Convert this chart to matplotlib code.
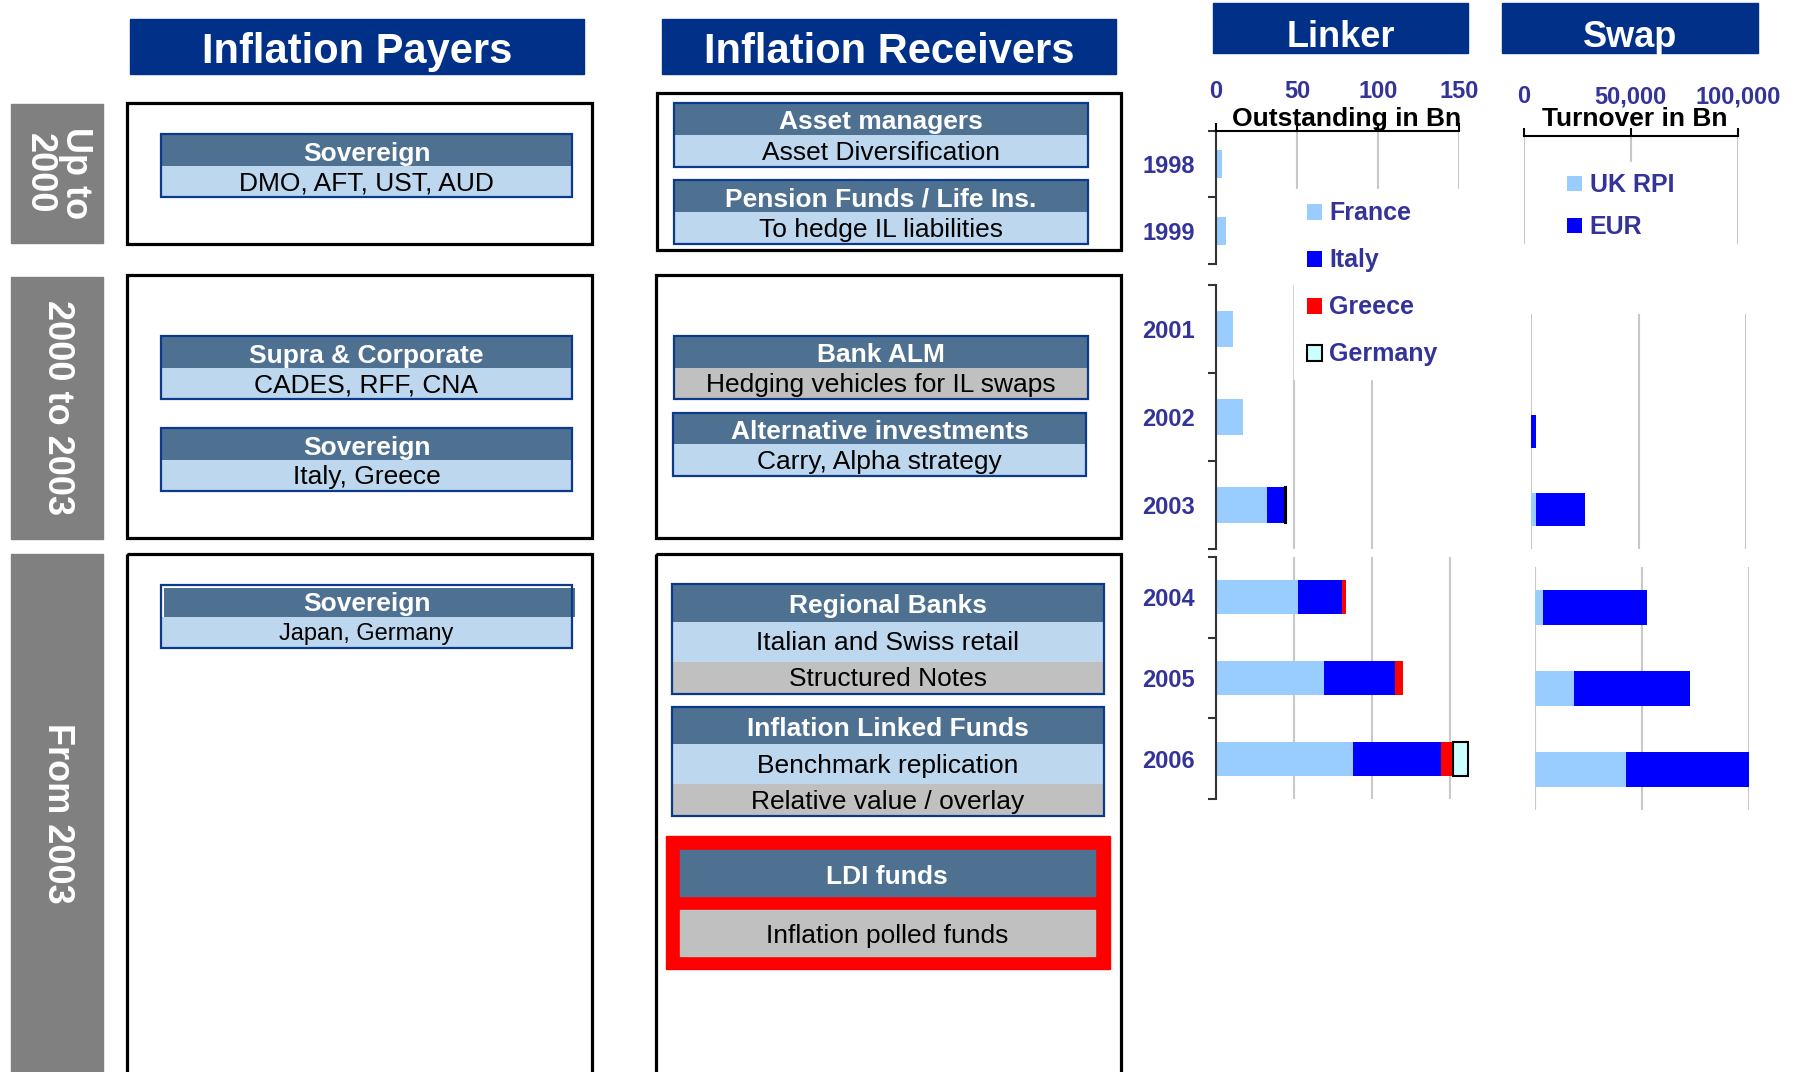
import matplotlib.pyplot as plt
from matplotlib.patches import Rectangle, Patch
from matplotlib.ticker import FuncFormatter

plt.rcParams['font.family'] = ['Liberation Sans', 'DejaVu Sans']

W, H = 1798, 1072
NAVY = '#003087'
STEEL = '#4F7191'
LIGHT = '#BDD7EE'
GREY = '#C0C0C0'
BORDER = '#0B3A8C'
LABEL = '#333399'
GRID = '#C8C8C8'

# --- chart data (linker outstanding in Bn, swap turnover in Bn) ---
years_a = ['1998', '1999']
years_b = ['2001', '2002', '2003']
years_c = ['2004', '2005', '2006']

france_a = [4, 6]
france_b = [11, 17, 32.5]
italy_b = [0, 0, 11.5]
greece_b = [0, 0, 0]
germany_b = [0, 0, 1]
france_c = [52.5, 69, 88]
italy_c = [28, 46, 56.5]
greece_c = [2.7, 5, 7.5]
germany_c = [0, 0, 9.5]

ukrpi_b = [0, 0, 2500]
eur_b = [0, 2200, 22600]
ukrpi_c = [3800, 18300, 42500]
eur_c = [48400, 54000, 59000]

linker_names = ['France', 'Italy', 'Greece', 'Germany']
linker_colors = ['#99CCFF', '#0000FF', '#FF0000', '#CCFFFF']
swap_names = ['UK RPI', 'EUR']
swap_colors = ['#99CCFF', '#0000FF']

# --- diagram text ---
periods = ['Up to\n2000', '2000 to 2003', 'From 2003']
payer_cards = [['Sovereign', 'DMO, AFT, UST, AUD'],
               ['Supra & Corporate', 'CADES, RFF, CNA'],
               ['Sovereign', 'Italy, Greece'],
               ['Sovereign', 'Japan, Germany']]
receiver_cards = [['Asset managers', 'Asset Diversification'],
                  ['Pension Funds / Life Ins.', 'To hedge IL liabilities'],
                  ['Bank ALM', 'Hedging vehicles for IL swaps'],
                  ['Alternative investments', 'Carry, Alpha strategy'],
                  ['Regional Banks', 'Italian and Swiss retail', 'Structured Notes'],
                  ['Inflation Linked Funds', 'Benchmark replication', 'Relative value / overlay']]

fig = plt.figure(figsize=(W / 100, H / 100), dpi=100)
bg = fig.add_axes([0, 0, 1, 1])
bg.set_xlim(0, W)
bg.set_ylim(H, 0)
bg.axis('off')


def px_axes(x0, y0, x1, y1):
    ax = fig.add_axes([x0 / W, 1 - y1 / H, (x1 - x0) / W, (y1 - y0) / H])
    ax.patch.set_visible(False)
    return ax


def banner(x0, y0, x1, y1, text, size, base):
    bg.add_patch(Rectangle((x0, y0), x1 - x0, y1 - y0, color=NAVY))
    bg.text((x0 + x1) / 2, base, text, ha='center', va='baseline',
            color='white', fontsize=size, fontweight='bold')


def frame(x0, y0, x1, y1):
    bg.add_patch(Rectangle((x0, y0), x1 - x0, y1 - y0, fill=False,
                           edgecolor='black', lw=2.3))


def card(x0, x1, ys, texts, fills, size=19, shift=0):
    for i, (txt, fill) in enumerate(zip(texts, fills)):
        top, bot = ys[i], ys[i + 1]
        head = i == 0
        dx = shift if head else 0
        dy = shift if head else 0
        bg.add_patch(Rectangle((x0 + dx, top + dy), x1 - x0, bot - top - dy,
                               facecolor=fill, edgecolor='none'))
        bg.text((x0 + x1) / 2, (top + bot) / 2 + (1 if head else -1), txt,
                ha='center', va='center_baseline', fontsize=19 if head else size,
                color='white' if head else 'black',
                fontweight='bold' if head else 'normal')
    bg.add_patch(Rectangle((x0, ys[0]), x1 - x0, ys[-1] - ys[0], fill=False,
                           edgecolor=BORDER, lw=1.6))


# headers
banner(130, 19, 584, 74, 'Inflation Payers', 30, 63)
banner(662, 19, 1116, 74, 'Inflation Receivers', 30, 63)
banner(1213, 3, 1468, 53, 'Linker', 26, 47)
banner(1502, 3, 1758, 53, 'Swap', 26, 47)

# period labels
for (y0, y1), txt in zip([(104, 243), (277, 539), (554, 1080)], periods):
    bg.add_patch(Rectangle((11, y0), 92, y1 - y0, color='#808080'))
    bg.text(57, (y0 + min(y1, H)) / 2, txt, rotation=-90, ha='center', va='center',
            color='white', fontsize=26, fontweight='bold', linespacing=1.05,
            multialignment='center')

# frames
for y0, y1 in [(103, 244), (275, 538), (554, 1090)]:
    frame(127, y0, 592, y1)
frame(657, 93, 1121, 250)
frame(656, 275, 1121, 538)
frame(656, 554, 1121, 1090)

# payer cards
card(161, 572, [134, 166, 197], payer_cards[0], [STEEL, LIGHT])
card(161, 572, [336, 368, 399], payer_cards[1], [STEEL, LIGHT])
card(161, 572, [428, 460, 491], payer_cards[2], [STEEL, LIGHT])
card(161, 572, [585, 617, 648], payer_cards[3], [STEEL, LIGHT], size=17, shift=3)

# receiver cards
card(674, 1088, [103, 135, 167], receiver_cards[0], [STEEL, LIGHT])
card(674, 1088, [180, 212, 244], receiver_cards[1], [STEEL, LIGHT])
card(674, 1088, [336, 368, 399], receiver_cards[2], [STEEL, GREY])
card(673, 1086, [413, 444, 476], receiver_cards[3], [STEEL, LIGHT])
card(672, 1104, [584, 622, 662, 694], receiver_cards[4], [STEEL, LIGHT, GREY])
card(672, 1104, [707, 744, 784, 816], receiver_cards[5], [STEEL, LIGHT, GREY])

# LDI box
bg.add_patch(Rectangle((666, 836), 444, 133, color='#FF0000'))
bg.add_patch(Rectangle((680, 850), 415, 46, color=STEEL))
bg.add_patch(Rectangle((680, 910), 415, 46, color=GREY))
bg.text(887, 874, 'LDI funds', ha='center', va='center_baseline', color='white',
        fontsize=19, fontweight='bold')
bg.text(887, 933, 'Inflation polled funds', ha='center', va='center_baseline',
        fontsize=19)

bg.text(1347, 119, 'Outstanding in Bn', ha='center', va='center',
        fontsize=19, fontweight='bold')
bg.text(1635, 119, 'Turnover in Bn', ha='center', va='center',
        fontsize=19, fontweight='bold')


def category_axis(ax, cats, xmax, labels=True):
    n = len(cats)
    ax.set_xlim(0, xmax)
    ax.set_ylim(n - 0.5, -0.5)
    ax.set_axisbelow(True)
    ax.grid(axis='x', color=GRID, lw=1.5)
    for s in ['right', 'bottom', 'top', 'left']:
        ax.spines[s].set_visible(False)
    ax.tick_params(axis='x', length=0, labelbottom=False)
    if labels:
        ax.spines['left'].set_visible(True)
        ax.spines['left'].set_color('#333333')
        ax.spines['left'].set_linewidth(1.5)
        ax.set_yticks([i - 0.5 for i in range(n + 1)])
        ax.set_yticklabels([])
        ax.set_yticks(range(n), minor=True)
        ax.set_yticklabels(cats, minor=True, fontweight='bold')
        ax.tick_params(axis='y', which='major', direction='out', length=6,
                       width=1.5, color='#333333')
        ax.tick_params(axis='y', which='minor', length=0, pad=15,
                       labelsize=17, labelcolor=LABEL)
    else:
        ax.set_yticks([])


def top_axis(ax, ticks, fmt=None):
    ax.spines['top'].set_visible(True)
    ax.spines['top'].set_color('black')
    ax.spines['top'].set_linewidth(1.5)
    ax.set_xticks(ticks)
    if fmt:
        ax.xaxis.set_major_formatter(FuncFormatter(fmt))
    ax.tick_params(axis='x', top=True, labeltop=True, bottom=False, labelbottom=False,
                   direction='out', length=6, width=1.5, pad=14,
                   labelsize=17, labelcolor=LABEL)
    for lab in ax.get_xticklabels():
        lab.set_fontweight('bold')


def stacked(ax, series, colors, edge_last=False):
    left = [0] * len(series[0])
    for k, (vals, col) in enumerate(zip(series, colors)):
        edged = edge_last and k == len(series) - 1
        lw = [1.5 if (edged and v > 0) else 0 for v in vals]
        ax.barh(range(len(vals)), vals, left=left, height=0.42, color=col,
                edgecolor='black', linewidth=lw)
        left = [a + b for a, b in zip(left, vals)]


# linker panels (lower panels run a little past 150 so the 2006 stack fits)
la = px_axes(1216, 131, 1459, 264)
category_axis(la, years_a, 150)
top_axis(la, [0, 50, 100, 150])
stacked(la, [france_a], linker_colors[:1])

px_per_bn = (1450 - 1216) / 150
lb = px_axes(1216, 285, 1216 + 175 * px_per_bn, 549)
category_axis(lb, years_b, 175)
lb.set_xticks([0, 50, 100])
stacked(lb, [france_b, italy_b, greece_b, germany_b], linker_colors, edge_last=True)

lc = px_axes(1216, 557, 1216 + 175 * px_per_bn, 799)
category_axis(lc, years_c, 175)
lc.set_xticks([0, 50, 100, 150])
stacked(lc, [france_c, italy_c, greece_c, germany_c], linker_colors, edge_last=True)

# swap panels
sa = px_axes(1523.5, 136, 1738, 244)
category_axis(sa, years_a, 100000, labels=False)
top_axis(sa, [0, 50000, 100000], lambda v, p: f'{v:,.0f}')

sb = px_axes(1531, 314, 1746, 549)
category_axis(sb, years_b, 100000, labels=False)
sb.set_xticks([0, 50000, 100000])
stacked(sb, [ukrpi_b, eur_b], swap_colors)

sc = px_axes(1535, 567, 1749, 810)
category_axis(sc, years_c, 100000, labels=False)
sc.set_xticks([0, 50000, 100000])
stacked(sc, [ukrpi_c, eur_c], swap_colors)

# legends
leg_font = {'weight': 'bold', 'size': 18}
lk_handles = [Patch(facecolor=c, edgecolor='black', lw=1.5 if n == 'Germany' else 0)
              for n, c in zip(linker_names, linker_colors)]
fig.legend(lk_handles, linker_names, loc='upper left', mode='expand',
           bbox_to_anchor=(1294 / W, 1 - 189 / H, 174 / W, 0),
           bbox_transform=fig.transFigure,
           prop=leg_font, labelcolor=LABEL, frameon=True, facecolor='white',
           edgecolor='white', framealpha=1, fancybox=False, borderpad=0.5,
           borderaxespad=0, handlelength=0.6, handleheight=0.6,
           handletextpad=0.3, labelspacing=0.92)
sw_handles = [Patch(facecolor=c, lw=0) for c in swap_colors]
fig.legend(sw_handles, swap_names, loc='upper left', mode='expand',
           bbox_to_anchor=(1556 / W, 1 - 162 / H, 140 / W, 0),
           bbox_transform=fig.transFigure,
           prop=leg_font, labelcolor=LABEL, frameon=True, facecolor='white',
           edgecolor='white', framealpha=1, fancybox=False, borderpad=0.45,
           borderaxespad=0, handlelength=0.6, handleheight=0.6,
           handletextpad=0.3, labelspacing=0.72)

fig.savefig('out.png', dpi=100)
